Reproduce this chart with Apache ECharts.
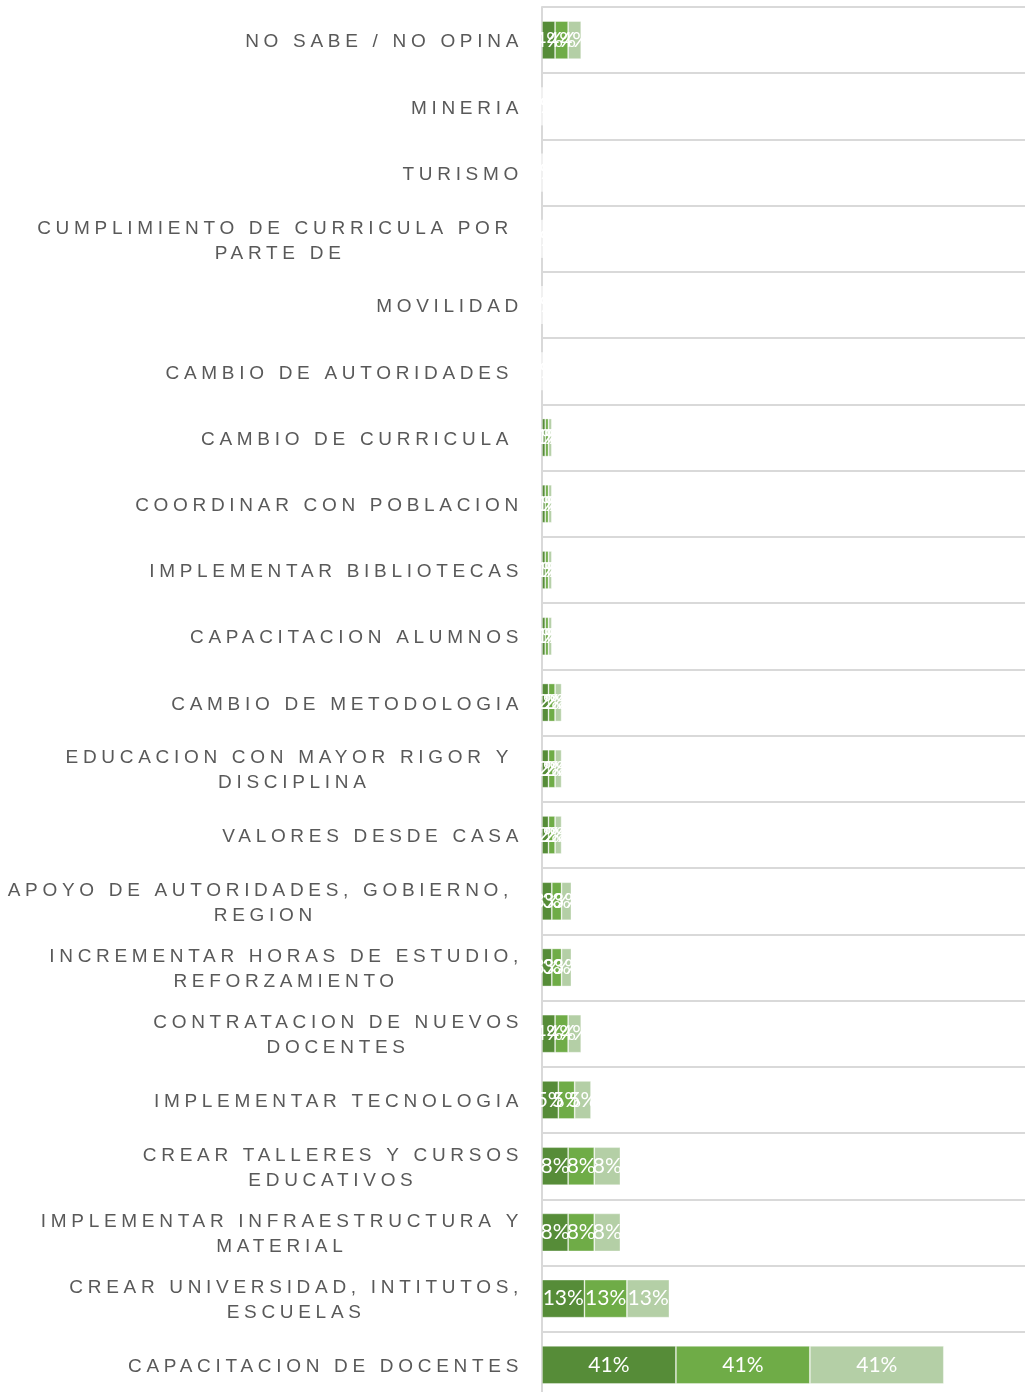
<!DOCTYPE html>
<html>
<head>
<meta charset="utf-8">
<script src="https://cdn.jsdelivr.net/npm/echarts@6/dist/echarts.min.js"></script>
<style>
  html, body { margin: 0; padding: 0; background: #fff; }
  #chart { width: 1025px; height: 1392px; }
</style>
</head>
<body>
<div id="chart"></div>
<script>
// categorías, de arriba hacia abajo
const categories = [
  'NO SABE / NO OPINA',
  'MINERIA',
  'TURISMO',
  'CUMPLIMIENTO DE CURRICULA POR \nPARTE DE',
  'MOVILIDAD',
  'CAMBIO DE AUTORIDADES ',
  'CAMBIO DE CURRICULA ',
  'COORDINAR CON POBLACION',
  'IMPLEMENTAR BIBLIOTECAS',
  'CAPACITACION ALUMNOS',
  'CAMBIO DE METODOLOGIA',
  'EDUCACION CON MAYOR RIGOR Y \nDISCIPLINA',
  'VALORES DESDE CASA',
  'APOYO DE AUTORIDADES, GOBIERNO, \nREGION',
  'INCREMENTAR HORAS DE ESTUDIO,\nREFORZAMIENTO',
  'CONTRATACION DE NUEVOS\nDOCENTES',
  'IMPLEMENTAR TECNOLOGIA',
  'CREAR TALLERES Y CURSOS\nEDUCATIVOS',
  'IMPLEMENTAR INFRAESTRUCTURA Y\nMATERIAL',
  'CREAR UNIVERSIDAD, INTITUTOS,\nESCUELAS',
  'CAPACITACION DE DOCENTES'
]

// porcentajes (%)
const serie1 = [4, 0, 0, 0, 0, 0, 1, 1, 1, 1, 2, 2, 2, 3, 3, 4, 5, 8, 8, 13, 41]
const serie2 = [4, 0, 0, 0, 0, 0, 1, 1, 1, 1, 2, 2, 2, 3, 3, 4, 5, 8, 8, 13, 41]
const serie3 = [4, 0, 0, 0, 0, 0, 1, 1, 1, 1, 2, 2, 2, 3, 3, 4, 5, 8, 8, 13, 41]

const seriesNames = ['Serie 1', 'Serie 2', 'Serie 3']
const seriesColors = ['#568c38', '#6fac47', '#b4cfa6']

// espaciado de letras para las etiquetas del eje (canvas letterSpacing)
;['fillText', 'measureText'].forEach(fn => {
  const orig = CanvasRenderingContext2D.prototype[fn]
  CanvasRenderingContext2D.prototype[fn] = function () {
    this.letterSpacing = this.font.indexOf('Liberation') >= 0 ? '4.7px' : '0px'
    return orig.apply(this, arguments)
  }
})

const chart = echarts.init(document.getElementById('chart'), null, { renderer: 'canvas' })

const makeSeries = (name, data, color) => ({
  name,
  type: 'bar',
  stack: 'total',
  data,
  barWidth: 38,
  itemStyle: {
    color,
    borderColor: 'rgba(255,255,255,0.45)',
    borderWidth: 0.8
  },
  label: {
    show: true,
    position: 'inside',
    formatter: '{c}%',
    color: '#fff',
    fontFamily: 'Lato',
    fontSize: 21
  }
})

const option = {
  backgroundColor: '#fff',
  animation: false,
  grid: {
    left: 542,
    top: 7,
    width: 490,
    height: 1391,
    outerBoundsMode: 'none'
  },
  xAxis: {
    type: 'value',
    min: 0,
    max: 150,
    show: false
  },
  yAxis: {
    type: 'category',
    data: categories,
    inverse: true,
    axisLine: { show: true, lineStyle: { color: '#d9d9d9', width: 2 } },
    axisTick: { show: false },
    splitLine: { show: true, lineStyle: { color: '#d9d9d9', width: 2 } },
    axisLabel: {
      margin: 19,
      padding: [4, 0, 0, 0],
      formatter: value => value.split('\n').map(s => '{c|' + s + '}').join('\n'),
      rich: {
        c: {
          align: 'center',
          fontFamily: 'Liberation Sans',
          fontSize: 19,
          lineHeight: 25,
          color: '#595959'
        }
      }
    }
  },
  series: [
    makeSeries(seriesNames[0], serie1, seriesColors[0]),
    makeSeries(seriesNames[1], serie2, seriesColors[1]),
    makeSeries(seriesNames[2], serie3, seriesColors[2])
  ]
}

chart.setOption(option)
</script>
</body>
</html>
